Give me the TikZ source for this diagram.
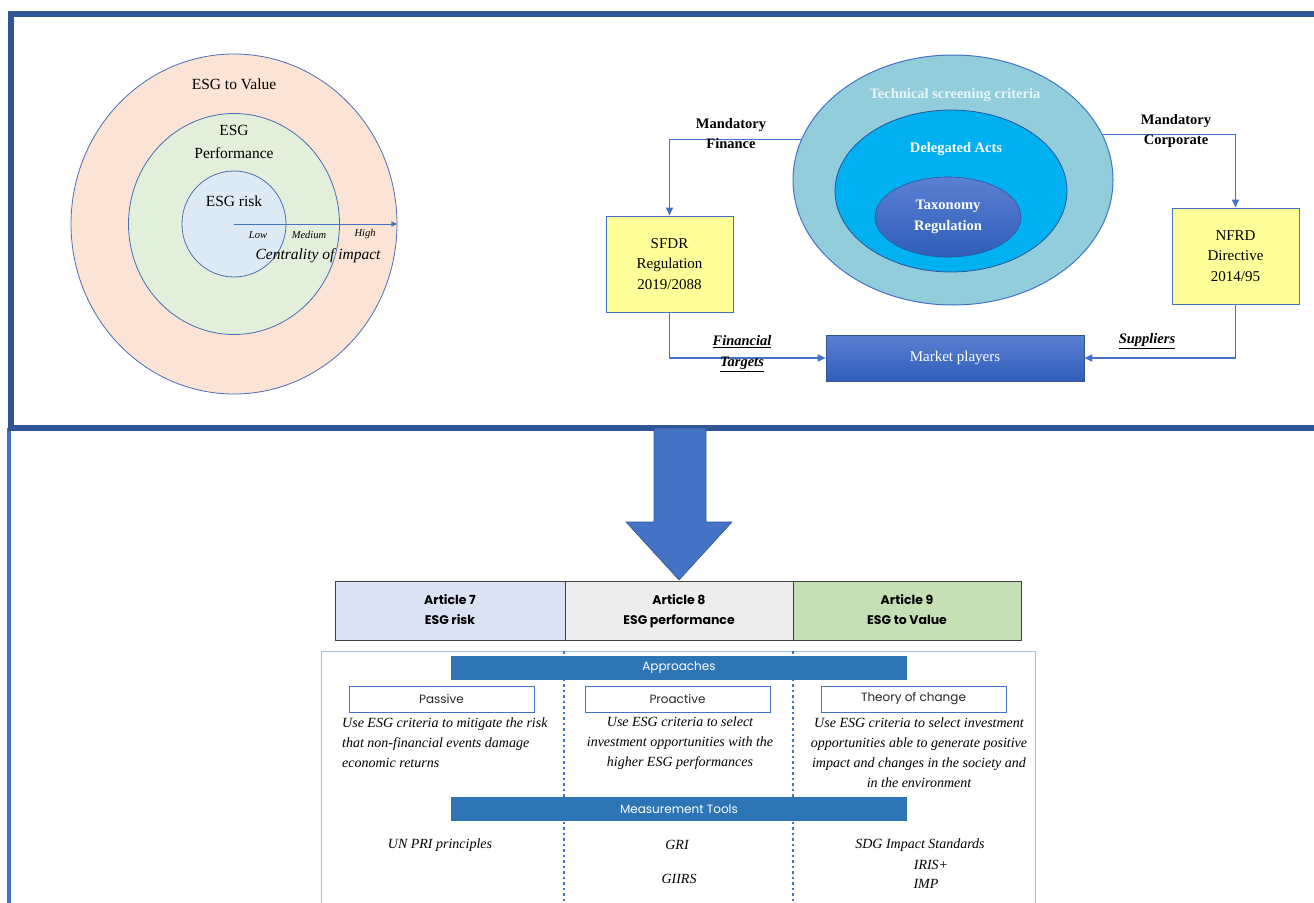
\documentclass[tikz,border=0pt]{standalone}
\usepackage{fontspec}
\setmainfont{Liberation Serif}
\newfontfamily\gothic{Poppins}
\usetikzlibrary{arrows.meta,shapes.geometric}
\definecolor{frameblue}{HTML}{2F5597}
\definecolor{lineblue}{HTML}{4472C4}
\definecolor{ringblue}{HTML}{4A6FB5}
\definecolor{peach}{HTML}{FBE3D5}
\definecolor{lgreen}{HTML}{E2EFDA}
\definecolor{lblue}{HTML}{DEEBF7}
\definecolor{tscfill}{HTML}{92CDDC}
\definecolor{dafill}{HTML}{00B0F0}
\definecolor{gradtop}{HTML}{5B80D2}
\definecolor{gradbot}{HTML}{2F5DB9}
\definecolor{yboxfill}{HTML}{FFFF99}
\definecolor{a7fill}{HTML}{DAE3F3}
\definecolor{a8fill}{HTML}{EDEDED}
\definecolor{a9fill}{HTML}{C5E0B4}
\definecolor{artline}{HTML}{3F3F3F}
\definecolor{barblue}{HTML}{2E75B6}
\definecolor{boxline}{HTML}{9DC3E6}
\definecolor{apptext}{HTML}{262626}
\definecolor{tsctext}{HTML}{EAF5F8}
\tikzset{
  conn/.style={draw=lineblue, line width=1.6pt, -{Triangle[width=7pt,length=8pt]}},
  ybox/.style={draw=lineblue, line width=1pt, fill=yboxfill, minimum width=127pt, minimum height=96pt, inner sep=0pt, align=center, font=\fontsize{15}{20.5}\selectfont},
  lbl/.style={font=\fontsize{14.5}{20}\selectfont\bfseries, align=center},
  ulbl/.style={font=\fontsize{14.5}{21}\selectfont\bfseries\itshape, align=center},
  ring/.style={ellipse, draw=ringblue, line width=0.8pt, inner sep=0pt},
  ctext/.style={font=\fontsize{15.5}{23}\selectfont, align=center},
  small/.style={font=\fontsize{10.5}{12}\selectfont\itshape},
  art/.style={draw=artline, line width=1pt, minimum height=59pt, inner sep=0pt, align=center, font=\gothic\bfseries\fontsize{12.5}{20}\selectfont},
  bar/.style={fill=barblue, minimum width=456pt, minimum height=24pt, inner sep=0pt, text=white, font=\gothic\fontsize{12}{14}\selectfont},
  apbox/.style={draw=lineblue, fill=white, line width=1pt, minimum width=185pt, minimum height=26pt, inner sep=0pt, font=\gothic\fontsize{12}{14}\selectfont, text=apptext},
  desc/.style={font=\fontsize{14}{20}\selectfont\itshape, inner sep=0pt},
  divline/.style={draw=lineblue, line width=2pt, dash pattern=on 2.5pt off 3pt},
}
\begin{document}
\begin{tikzpicture}[x=1pt,y=-1pt]
\useasboundingbox (0,0) rectangle (1314,902);
\fill[white] (0,0) rectangle (1314,902);

% frames
\draw[lineblue, line width=3.5pt] (9,428) -- (9,910);
\draw[frameblue, line width=6pt] (10.5,13.5) rectangle (1340,428);

% ---------- left concentric circles ----------
\node[ring, fill=peach, minimum width=326pt, minimum height=340pt] (value) at (234,224) {};
\node[ring, fill=lgreen, minimum width=211pt, minimum height=221pt] (perf) at (234,224) {};
\node[ring, fill=lblue, minimum width=104pt, minimum height=106pt] (risk) at (234,224) {};
\node[ctext] (tvalue) at (234,84) {ESG to Value};
\node[ctext] (tperf) at (234,141.5) {ESG\\Performance};
\node[ctext] (trisk) at (234,201) {ESG risk};
\draw[draw=lineblue, line width=1pt, -{Triangle[width=5pt,length=6pt]}] (risk.center) -- (value.east);
\node[small] (low) at (258,235) {Low};
\node[small] (med) at (309,235) {Medium};
\node[small] (high) at (365,234) {High};
\node[font=\fontsize{15.5}{18}\selectfont\itshape] (cent) at (318,256) {Centrality of impact};

% ---------- right regulation diagram ----------
\node[ellipse, draw=lineblue, line width=1pt, fill=tscfill, inner sep=0pt, minimum width=320pt, minimum height=250pt] (tsc) at (953,180) {};
\node[ellipse, draw=frameblue, line width=0.8pt, fill=dafill, inner sep=0pt, minimum width=232pt, minimum height=162pt] (da) at (951,191) {};
\node[ellipse, draw=frameblue, line width=0.6pt, top color=gradtop, bottom color=gradbot, inner sep=0pt, minimum width=146pt, minimum height=80pt, text=white, align=center, font=\fontsize{14.5}{21}\selectfont\bfseries] (tax) at (948,217) {Taxonomy\\Regulation};
\node[font=\fontsize{14.5}{18}\selectfont\bfseries, text=tsctext] (ttsc) at (955,95) {Technical screening criteria};
\node[font=\fontsize{14.5}{18}\selectfont\bfseries, text=white] (tda) at (956,149) {Delegated Acts};

\node[ybox] (sfdr) at (669.5,264) {SFDR\\Regulation\\2019/2088};
\node[ybox] (nfrd) at (1235.5,256) {NFRD\\Directive\\2014/95};
\node[draw=frameblue, line width=0.6pt, top color=gradtop, bottom color=gradbot, minimum width=258pt, minimum height=46pt, inner sep=0pt, text=white, font=\fontsize{15}{18}\selectfont] (mp) at (955,358) {Market players};

\draw[conn] (tsc.165) -| (sfdr.north);
\draw[conn] (tsc.17.5) -| (nfrd.north);
\draw[conn] (sfdr.south) |- (mp.west);
\draw[conn] (nfrd.south) |- (mp.east);

\node[lbl] (lmf) at (731,134) {Mandatory\\Finance};
\node[lbl] (lmc) at (1176,131.5) {Mandatory\\Corporate};
\node[ulbl] (lft) at (742,353.5) {\underline{Financial}\\\underline{Targets}};
\node[ulbl] (lsup) at (1147,341) {\underline{Suppliers}};

% ---------- big down arrow ----------
\draw[fill=lineblue, draw=frameblue, line width=0.6pt]
  (654,428) -- (706,428) -- (706,522) -- (732,522) -- (679,580) -- (626,522) -- (654,522) -- cycle;

% ---------- articles table ----------
\node[art, fill=a7fill, minimum width=230pt] (a7) at (450,610.5) {Article 7\strut\\ESG risk\strut};
\node[art, fill=a8fill, minimum width=228pt] (a8) at (679,610.5) {Article 8\strut\\ESG performance\strut};
\node[art, fill=a9fill, minimum width=228pt] (a9) at (907,610.5) {Article 9\strut\\ESG to Value\strut};

% ---------- lower box ----------
\node[draw=boxline, line width=1pt, anchor=north west, minimum width=714pt, minimum height=270pt, inner sep=0pt] (lowbox) at (321,651) {};
\coordinate (d1t) at (564,651);
\coordinate (d1b) at (564,905);
\coordinate (d2t) at (793,651);
\coordinate (d2b) at (793,905);
\draw[divline] (d1t) -- (d1b);
\draw[divline] (d2t) -- (d2b);

\node[bar] (appr) at (679,668) {Approaches};
\node[apbox] (passive) at (441.5,699) {Passive};
\node[apbox] (proactive) at (677.5,699) {Proactive};
\node[apbox] (toc) at (913.5,699) {Theory of change};

\node[desc, align=left, anchor=west] (d1) at (342,743) {Use ESG criteria to mitigate the risk\\that non-financial events damage\\economic returns};
\node[desc, align=center] (d2) at (680,743) {Use ESG criteria to select\\investment opportunities with the\\higher ESG performances};
\node[desc, align=center] (d3) at (919,752.5) {Use ESG criteria to select investment\\opportunities able to generate positive\\impact and changes in the society and\\in the environment};

\node[bar] (meas) at (679,809) {Measurement Tools};

\node[desc] (unpri) at (440,845) {UN PRI principles};
\node[desc] (gri) at (677,845) {GRI};
\node[desc] (giirs) at (679,879) {GIIRS};
\node[desc] (sdg) at (920,845) {SDG Impact Standards};
\node[desc] (iris) at (931,865) {IRIS+};
\node[desc] (imp) at (926,884) {IMP};
\end{tikzpicture}
\end{document}
